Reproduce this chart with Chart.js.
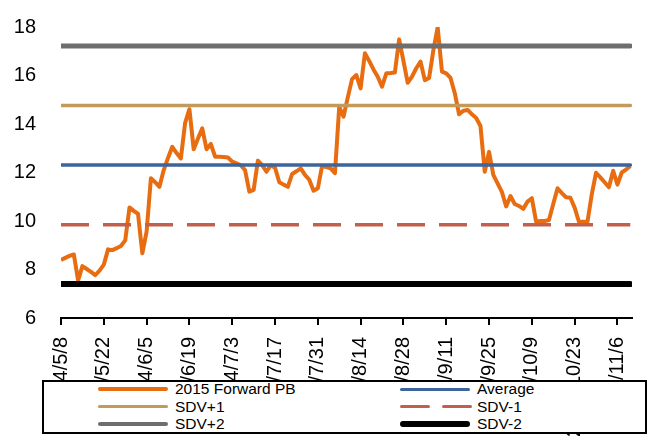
<!DOCTYPE html>
<html>
<head>
<meta charset="utf-8">
<title>2015 Forward PB</title>
<script src="https://cdn.jsdelivr.net/npm/chart.js@4.4.0/dist/chart.umd.min.js"></script>
<style>
    html, body { margin: 0; padding: 0; background: #fff; }
    #wrap { position: relative; width: 660px; height: 441px; overflow: hidden; font-family: "Liberation Sans", Arial, sans-serif; }
    #pbChart { position: absolute; left: 0; top: 0; }
    #legend {
        position: absolute; left: 42px; top: 380px; width: 605px; height: 54px;
        box-sizing: border-box; border: 2px solid #000; background: #fff;
    }
    .item { position: absolute; height: 18px; font-size: 15.5px; line-height: 18px; color: #000; white-space: nowrap; }
    .swatch { position: absolute; top: 50%; width: 70px; border-radius: 3px; }
    .label { position: absolute; left: 77px; top: 0; }
</style>
</head>
<body>
<div id="wrap">
    <canvas id="pbChart" width="660" height="441"></canvas>
    <div id="legend"></div>
</div>
<script>
// tick labels (every 10 trading days)
const tickLabels = ['2014/5/8', '2014/5/22', '2014/6/5', '2014/6/19', '2014/7/3', '2014/7/17', '2014/7/31',
    '2014/8/14', '2014/8/28', '2014/9/11', '2014/9/25', '2014/10/9', '2014/10/23', '2014/11/6'];

// 2015 Forward PB, daily values
const pbValues = [
    8.39, 8.48, 8.56, 8.62, 7.55, 8.14, 8.02, 7.90, 7.77, 7.95,
    8.20, 8.83, 8.80, 8.88, 8.97, 9.20, 10.56, 10.42, 10.29, 8.67,
    9.56, 11.76, 11.60, 11.41, 12.10, 12.60, 13.06, 12.80, 12.58, 14.05,
    14.61, 12.96, 13.40, 13.82, 12.96, 13.18, 12.65, 12.65, 12.64, 12.62,
    12.45, 12.38, 12.30, 12.10, 11.21, 11.28, 12.49, 12.30, 12.03, 12.30,
    12.20, 11.60, 11.50, 11.41, 11.94, 12.05, 12.17, 11.90, 11.70, 11.25,
    11.35, 12.27, 12.22, 12.17, 11.97, 14.71, 14.30, 15.10, 15.85, 16.02,
    15.47, 16.92, 16.60, 16.25, 15.95, 15.54, 16.09, 16.10, 16.12, 17.49,
    16.60, 15.70, 15.95, 16.30, 16.57, 15.81, 15.90, 17.05, 17.99, 16.16,
    16.09, 15.90, 15.27, 14.40, 14.55, 14.58, 14.40, 14.25, 13.92, 12.03,
    12.85, 11.90, 11.55, 11.20, 10.60, 11.03, 10.70, 10.62, 10.50, 10.80,
    10.94, 9.97, 10.00, 10.00, 10.04, 10.70, 11.35, 11.15, 10.98, 10.96,
    10.55, 9.97, 9.97, 9.97, 11.10, 11.99, 11.80, 11.60, 11.39, 12.07,
    11.50, 12.00, 12.12, 12.27
];

// reference lines
const refNames = ['Average', 'SDV+1', 'SDV-1', 'SDV+2', 'SDV-2'];
const refValues = [12.31, 14.76, 9.85, 17.22, 7.40];

// y axis
const yMin = 6;
const yMax = 18;
const yStep = 2;

const refStyles = {
    'Average': { color: '#3D649C', width: 3.5, dash: [] },
    'SDV+1': { color: '#C29A5B', width: 3.5, dash: [] },
    'SDV-1': { color: '#C0604D', width: 3.5, dash: [28, 14] },
    'SDV+2': { color: '#6E6E6E', width: 5, dash: [] },
    'SDV-2': { color: '#000000', width: 6, dash: [] }
};
const pbStyle = { color: '#E86C10', width: 4, dash: [] };

const lastIdx = pbValues.length - 1;

const datasets = [{
    label: '2015 Forward PB',
    data: pbValues.map(function(v, i) { return { x: i, y: v }; }),
    borderColor: pbStyle.color,
    borderWidth: pbStyle.width,
    order: 10
}];

refNames.forEach(function(name, k) {
    const s = refStyles[name];
    datasets.push({
        label: name,
        data: [{ x: 0, y: refValues[k] }, { x: lastIdx, y: refValues[k] }],
        borderColor: s.color,
        borderWidth: s.width,
        borderDash: s.dash,
        borderCapStyle: s.dash.length ? 'butt' : 'round',
        order: 1
    });
});

const font = { family: '"Liberation Sans", Arial, sans-serif', size: 20 };

new Chart(document.getElementById('pbChart'), {
    type: 'line',
    data: { datasets: datasets },
    options: {
        responsive: false,
        animation: false,
        devicePixelRatio: 1,
        layout: { padding: { left: 0, top: 27, right: 28, bottom: 0 } },
        elements: {
            point: { radius: 0 },
            line: { tension: 0, borderJoinStyle: 'round', fill: false }
        },
        plugins: {
            legend: { display: false },
            tooltip: { enabled: false }
        },
        scales: {
            x: {
                type: 'linear',
                min: 0,
                max: 133.4,
                afterFit: function(scale) { scale.height = 123; },
                border: { display: true, color: '#000', width: 2 },
                grid: { display: true, drawOnChartArea: false, drawTicks: true, tickLength: 7, color: '#000', lineWidth: 2 },
                ticks: {
                    stepSize: 10,
                    includeBounds: false,
                    autoSkip: false,
                    minRotation: 90,
                    maxRotation: 90,
                    padding: 12,
                    color: '#000',
                    font: font,
                    callback: function(v) {
                        const t = tickLabels[Math.round(v / 10)];
                        return t === undefined ? '' : t;
                    }
                }
            },
            y: {
                min: yMin,
                max: yMax,
                afterFit: function(scale) { scale.width = 61; },
                border: { display: false },
                // hidden tick marks only used to push the labels away from the plot
                grid: { display: false, drawTicks: true, tickLength: 25 },
                ticks: { stepSize: yStep, padding: 0, color: '#000', font: font }
            }
        }
    }
});

// legend drawn as html, laid over the bottom of the axis labels like in the original
const legendRows = [
    ['2015 Forward PB', 'Average'],
    ['SDV+1', 'SDV-1'],
    ['SDV+2', 'SDV-2']
];
const legendEl = document.getElementById('legend');
legendRows.forEach(function(row, r) {
    row.forEach(function(name, c) {
        const s = name === '2015 Forward PB' ? pbStyle : refStyles[name];
        const item = document.createElement('div');
        item.className = 'item';
        item.style.left = (c === 0 ? 54 : 356) + 'px';
        item.style.top = (r * 17.5 - 2) + 'px';
        const w = Math.max(3, s.width - 0.5);
        if (s.dash.length) {
            [0, 42].forEach(function(off) {
                const seg = document.createElement('span');
                seg.className = 'swatch';
                seg.style.left = off + 'px';
                seg.style.width = '30px';
                seg.style.height = w + 'px';
                seg.style.marginTop = (-w / 2) + 'px';
                seg.style.background = s.color;
                item.appendChild(seg);
            });
        } else {
            const sw = document.createElement('span');
            sw.className = 'swatch';
            sw.style.left = '0px';
            sw.style.height = w + 'px';
            sw.style.marginTop = (-w / 2) + 'px';
            sw.style.background = s.color;
            item.appendChild(sw);
        }
        const lab = document.createElement('span');
        lab.className = 'label';
        lab.textContent = name;
        item.appendChild(lab);
        legendEl.appendChild(item);
    });
});
</script>
</body>
</html>
